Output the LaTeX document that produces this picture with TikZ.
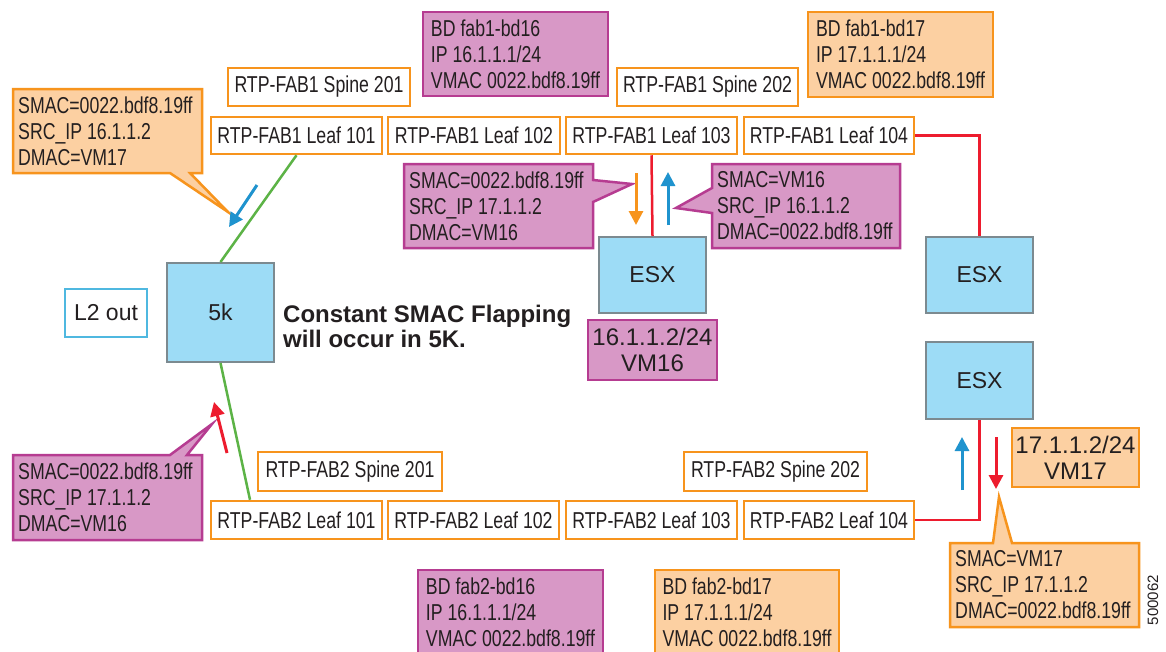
\documentclass[tikz,border=0pt]{standalone}
\usepackage{fontspec}
\setmainfont{Liberation Sans}
\newfontfamily\condfont{Liberation Sans}[FakeStretch=0.77]
\usetikzlibrary{arrows.meta,calc}

\definecolor{ink}{HTML}{231F20}
\definecolor{orB}{HTML}{F7941D}
\definecolor{orF}{HTML}{FCD0A2}
\definecolor{puB}{HTML}{B63C91}
\definecolor{puF}{HTML}{D898C6}
\definecolor{skyF}{HTML}{9DDCF6}
\definecolor{skyB}{HTML}{7C8A90}
\definecolor{l2B}{HTML}{4FB8E0}
\definecolor{linkG}{HTML}{5CB346}
\definecolor{linkR}{HTML}{ED1C2E}
\definecolor{arrB}{HTML}{1F93CE}

\tikzset{
  switchbox/.style={draw=orB, line width=2.5pt, fill=white, inner sep=0pt,
    text=ink, font=\condfont\fontsize{23}{26}\selectfont},
  infobox/.style={line width=2.5pt, inner sep=0pt, align=left, text=ink,
    font=\condfont\fontsize{23}{26}\selectfont},
  purplebox/.style={infobox, draw=puB, fill=puF},
  orangebox/.style={infobox, draw=orB, fill=orF},
  vmbox/.style={line width=2.5pt, inner sep=0pt, align=center, text=ink,
    font=\fontsize{24}{26}\selectfont},
  hostbox/.style={draw=skyB, line width=2pt, fill=skyF, inner sep=0pt,
    text=ink, font=\fontsize{23}{26}\selectfont},
  calloutO/.style={draw=orB, fill=orF, line width=2.5pt, line join=miter},
  calloutP/.style={draw=puB, fill=puF, line width=2.5pt, line join=miter},
  ctext/.style={inner sep=0pt, align=left, text=ink, anchor=west,
    font=\condfont\fontsize{23}{26}\selectfont},
  link/.style={line width=2.5pt},
  flow/.style={line width=3pt, -{Triangle[length=14pt,width=14pt]}},
}

\begin{document}
\begin{tikzpicture}[x=1pt,y=-1pt]
\useasboundingbox[fill=white] (0,0) rectangle (1166,651);

% ---------- fabric 1 ----------
\node[switchbox, minimum width=182pt, minimum height=38pt] (f1s201) at (319,87) {RTP-FAB1 Spine 201};
\node[switchbox, minimum width=181pt, minimum height=38pt] (f1s202) at (707.5,87) {RTP-FAB1 Spine 202};
\node[switchbox, minimum width=171pt, minimum height=37pt] (f1l101) at (296.5,135.5) {RTP-FAB1 Leaf 101};
\node[switchbox, minimum width=172pt, minimum height=37pt] (f1l102) at (474,135.5) {RTP-FAB1 Leaf 102};
\node[switchbox, minimum width=171pt, minimum height=37pt] (f1l103) at (651.5,135.5) {RTP-FAB1 Leaf 103};
\node[switchbox, minimum width=170pt, minimum height=37pt] (f1l104) at (829,135.5) {RTP-FAB1 Leaf 104};

\node[purplebox, minimum width=185pt, minimum height=84pt] (bd116) at (515.5,54)
  {BD fab1-bd16\\IP 16.1.1.1/24\\VMAC 0022.bdf8.19ff};
\node[orangebox, minimum width=185pt, minimum height=85pt] (bd117) at (900.5,54.5)
  {BD fab1-bd17\\IP 17.1.1.1/24\\VMAC 0022.bdf8.19ff};

% ---------- fabric 2 ----------
\node[switchbox, minimum width=184pt, minimum height=39pt] (f2s201) at (350,471.5) {RTP-FAB2 Spine 201};
\node[switchbox, minimum width=183pt, minimum height=39pt] (f2s202) at (775.5,471.5) {RTP-FAB2 Spine 202};
\node[switchbox, minimum width=171pt, minimum height=38pt] (f2l101) at (296.5,520) {RTP-FAB2 Leaf 101};
\node[switchbox, minimum width=171pt, minimum height=38pt] (f2l102) at (473.5,520) {RTP-FAB2 Leaf 102};
\node[switchbox, minimum width=171pt, minimum height=38pt] (f2l103) at (651.5,520) {RTP-FAB2 Leaf 103};
\node[switchbox, minimum width=170pt, minimum height=38pt] (f2l104) at (829,520) {RTP-FAB2 Leaf 104};

\node[purplebox, minimum width=185pt, minimum height=84pt] (bd216) at (510.5,612)
  {BD fab2-bd16\\IP 16.1.1.1/24\\VMAC 0022.bdf8.19ff};
\node[orangebox, minimum width=184pt, minimum height=84pt] (bd217) at (747,612)
  {BD fab2-bd17\\IP 17.1.1.1/24\\VMAC 0022.bdf8.19ff};

% ---------- hosts and the 5k ----------
\node[hostbox, minimum width=107pt, minimum height=99pt] (n5k) at (220.5,312.5) {5k};
\node[draw=l2B, line width=1.5pt, fill=white, inner sep=0pt, text=ink,
      font=\fontsize{23}{26}\selectfont, minimum width=82pt, minimum height=48pt] (l2out) at (106,313) {L2 out};
\node[hostbox, minimum width=107pt, minimum height=76pt] (esx1) at (652.5,275) {ESX};
\node[hostbox, minimum width=107pt, minimum height=76pt] (esx2) at (979.5,275) {ESX};
\node[hostbox, minimum width=107pt, minimum height=77pt] (esx3) at (979.5,380.5) {ESX};

\node[vmbox, draw=puB, fill=puF, minimum width=129pt, minimum height=60pt] (vm16) at (652.5,350) {16.1.1.2/24\\VM16};
\node[vmbox, draw=orB, fill=orF, minimum width=127pt, minimum height=59pt] (vm17) at (1075.5,457.5) {17.1.1.2/24\\VM17};

\node[anchor=west, align=left, inner sep=0pt, text=ink, font=\bfseries\fontsize{24}{25}\selectfont]
  (flapnote) at (283,326) {Constant SMAC Flapping\\will occur in 5K.};

% ---------- links ----------
\coordinate (f2l101up) at ([xshift=-46.5pt]f2l101.north);
\draw[link, linkG] (f1l101.south) -- (n5k.north);
\draw[link, linkG] (n5k.south) -- (f2l101up);
\draw[link, linkR] (f1l103.south) -- (esx1.north);
\draw[link, linkR] (f1l104.east) -| (esx2.north);
\draw[link, linkR] (esx3.south) |- (f2l104.east);

% ---------- callouts ----------
\draw[calloutO] (13,89) -- (202,89) -- (202,173) -- (190,173) -- (228,212) -- (170,173) -- (13,173) -- cycle;
\node[ctext] (c1) at (18,131) {SMAC=0022.bdf8.19ff\\SRC\_IP 16.1.1.2\\DMAC=VM17};

\draw[calloutP] (404,164) -- (593,164) -- (593,180) -- (632,184) -- (593,202) -- (593,248) -- (404,248) -- cycle;
\node[ctext] (c2) at (409,206) {SMAC=0022.bdf8.19ff\\SRC\_IP 17.1.1.2\\DMAC=VM16};

\draw[calloutP] (712,164) -- (900,164) -- (900,248) -- (712,248) -- (712,213) -- (676,208) -- (712,188) -- cycle;
\node[ctext] (c3) at (717,206) {SMAC=VM16\\SRC\_IP 16.1.1.2\\DMAC=0022.bdf8.19ff};

\draw[calloutP] (13,455) -- (170,455) -- (212,424) -- (187,455) -- (202,455) -- (202,540) -- (13,540) -- cycle;
\node[ctext] (c4) at (18,497.5) {SMAC=0022.bdf8.19ff\\SRC\_IP 17.1.1.2\\DMAC=VM16};

\draw[calloutO] (950,543) -- (993,543) -- (999,497) -- (1012,543) -- (1139,543) -- (1139,627) -- (950,627) -- cycle;
\node[ctext] (c5) at (955,585) {SMAC=VM17\\SRC\_IP 17.1.1.2\\DMAC=0022.bdf8.19ff};

% ---------- traffic direction ----------
\coordinate (a1s) at (257,185); \coordinate (a1e) at (229,227);
\coordinate (a2s) at (636,173); \coordinate (a2e) at (636,225);
\coordinate (a3s) at (668,225); \coordinate (a3e) at (668,172);
\coordinate (a4s) at (227,453); \coordinate (a4e) at (214,402);
\coordinate (a5s) at (962,490); \coordinate (a5e) at (962,437);
\coordinate (a6s) at (996,437); \coordinate (a6e) at (996,489);
\draw[flow, arrB] (a1s) -- (a1e);
\draw[flow, orB] (a2s) -- (a2e);
\draw[flow, arrB] (a3s) -- (a3e);
\draw[flow, linkR] (a4s) -- (a4e);
\draw[flow, arrB] (a5s) -- (a5e);
\draw[flow, linkR] (a6s) -- (a6e);

% figure number
\node[rotate=90, inner sep=0pt, text=ink, font=\fontsize{15}{16}\selectfont] (fignum) at (1153,600) {500062};
\end{tikzpicture}
\end{document}
